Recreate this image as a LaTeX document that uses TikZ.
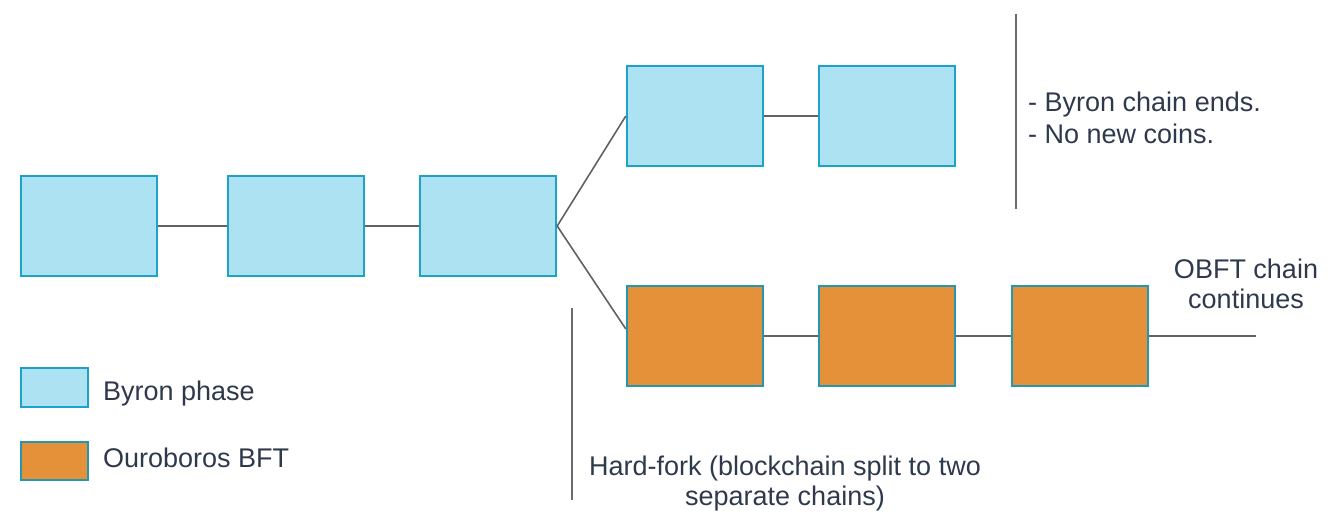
\documentclass[tikz,border=0pt]{standalone}
\usepackage{fontspec}
\setmainfont{Liberation Sans}
\definecolor{byronfill}{HTML}{ADE2F3}
\definecolor{boxedge}{HTML}{1EA2C8}
\definecolor{obftfill}{HTML}{E5913A}
\definecolor{obftedge}{HTML}{2397B0}
\definecolor{linkgray}{HTML}{5F6266}
\definecolor{txt}{HTML}{2E3A4C}
\begin{document}
\begin{tikzpicture}[x=1pt,y=-1pt,
  byron/.style={draw=boxedge,fill=byronfill,line width=2.4pt,minimum width=136pt,minimum height=100pt,inner sep=0pt},
  obft/.style={draw=obftedge,fill=obftfill,line width=2.4pt,minimum width=136pt,minimum height=100pt,inner sep=0pt},
  legb/.style={draw=boxedge,fill=byronfill,line width=2.4pt,minimum width=67pt,minimum height=39pt,inner sep=0pt},
  lego/.style={draw=obftedge,fill=obftfill,line width=2.4pt,minimum width=67pt,minimum height=38pt,inner sep=0pt},
  link/.style={draw=linkgray,line width=1.6pt},
  sep/.style={draw=gray!85!black,line width=2pt},
  lbl/.style={text=txt,font=\fontsize{27}{31}\selectfont,inner sep=0pt}]
\useasboundingbox (0,0) rectangle (1338,532);
% Byron chain
\node[byron] (b1) at (89,226) {};
\node[byron] (b2) at (296,226) {};
\node[byron] (b3) at (488,226) {};
\node[byron] (b4) at (695,116) {};
\node[byron] (b5) at (887,116) {};
% OBFT chain
\node[obft] (o1) at (695,336) {};
\node[obft] (o2) at (887,336) {};
\node[obft] (o3) at (1080,336) {};
\coordinate (oend) at (1256,336);
% links
\draw[link] (b1.east) -- (b2.west);
\draw[link] (b2.east) -- (b3.west);
\draw[link] (b4.east) -- (b5.west);
\draw[link] (b3.east) -- (b4.west);
\draw[link] (b3.east) -- ([yshift=7pt]o1.west);
\draw[link] (o1.east) -- (o2.west);
\draw[link] (o2.east) -- (o3.west);
\draw[link] (o3.east) -- (oend);
% separators
\coordinate (s1t) at (1016,14);
\coordinate (s1b) at (1016,209);
\coordinate (s2t) at (572,308);
\coordinate (s2b) at (572,500);
\draw[sep] (s1t) -- (s1b);
\draw[sep] (s2t) -- (s2b);
% texts
\node[lbl,anchor=base west] (t1) at (1028,112) {- Byron chain ends.};
\node[lbl,anchor=base west] (t2) at (1028,143) {- No new coins.};
\node[lbl,anchor=base] (t3) at (1246,278) {OBFT chain};
\node[lbl,anchor=base] (t4) at (1246,308) {continues};
\node[lbl,anchor=base] (t5) at (785,475) {Hard-fork (blockchain split to two};
\node[lbl,anchor=base] (t6) at (785,505) {separate chains)};
% legend
\node[legb] (lb) at (54.5,387.5) {};
\node[lego] (lo) at (54.5,461) {};
\node[lbl,anchor=base west] (lbt) at (103,400) {Byron phase};
\node[lbl,anchor=base west] (lot) at (103,467) {Ouroboros BFT};
\end{tikzpicture}
\end{document}
